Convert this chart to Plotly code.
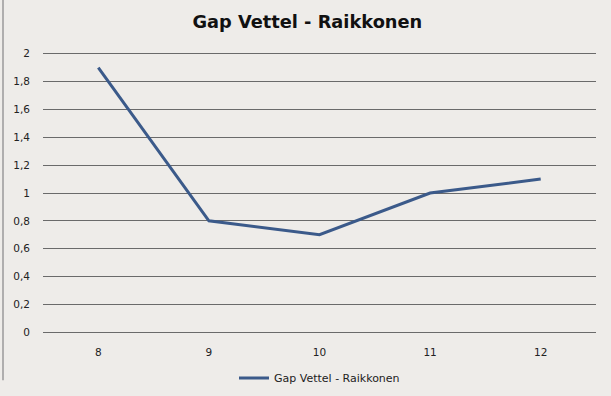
import plotly.graph_objects as go

races = [8, 9, 10, 11, 12]
gap = [1.9, 0.8, 0.7, 1.0, 1.1]
y_ticks = [0, 0.2, 0.4, 0.6, 0.8, 1, 1.2, 1.4, 1.6, 1.8, 2]
y_labels = ["0", "0,2", "0,4", "0,6", "0,8", "1", "1,2", "1,4", "1,6", "1,8", "2"]
series_name = "Gap Vettel - Raikkonen"

W, H = 611, 396
PAD = 0.02
ppu = (332 - 54) / 2.0  # pixels per unit
ML, MR = 43, 15
MT = 54 - PAD * ppu
MB = (H - 332) - PAD * ppu
pw, ph = W - ML - MR, H - MT - MB

fig = go.Figure()
fig.add_trace(go.Scatter(
    x=races, y=gap, mode="lines", name=series_name,
    line=dict(color="#3b5a8a", width=3),
))

fig.update_layout(
    width=W, height=H,
    paper_bgcolor="#eeece9", plot_bgcolor="#eeece9",
    margin=dict(l=ML, r=MR, t=MT, b=MB, autoexpand=False),
    title=dict(text="<b>Gap Vettel - Raikkonen</b>", x=0.503, xanchor="center",
               y=1 - 22 / H, yanchor="middle",
               font=dict(family="DejaVu Sans", size=17.8, color="#111111")),
    font=dict(family="DejaVu Sans", size=10.5, color="#222222"),
    showlegend=True,
    legend=dict(orientation="h", x=0.5, xanchor="center", y=-0.1, yanchor="top",
                font=dict(size=11, color="#222222"), bgcolor="rgba(0,0,0,0)",
                itemwidth=30),
    xaxis=dict(range=[7.5, 12.5], tickvals=races, ticktext=[str(r) for r in races],
               showgrid=False, zeroline=False, showline=False, ticks="",
               ticklabelstandoff=9),
    yaxis=dict(range=[-PAD, 2 + PAD], tickvals=y_ticks, ticktext=y_labels,
               showgrid=True, gridcolor="#6a6a6a", gridwidth=1,
               zeroline=False, showline=False, ticks="", ticklabelstandoff=12),
)
# thin frame edge on the left of the image
fig.add_shape(type="line", xref="paper", yref="paper",
              x0=(3 - ML) / pw, x1=(3 - ML) / pw,
              y0=(H - MT - 390) / ph, y1=(H - MT - 5) / ph,
              line=dict(color="#9a9a9a", width=1.5))
fig.write_html("out.html", config={"displayModeBar": False},
               post_script="document.body.style.margin='0';document.body.style.overflow='hidden';")
